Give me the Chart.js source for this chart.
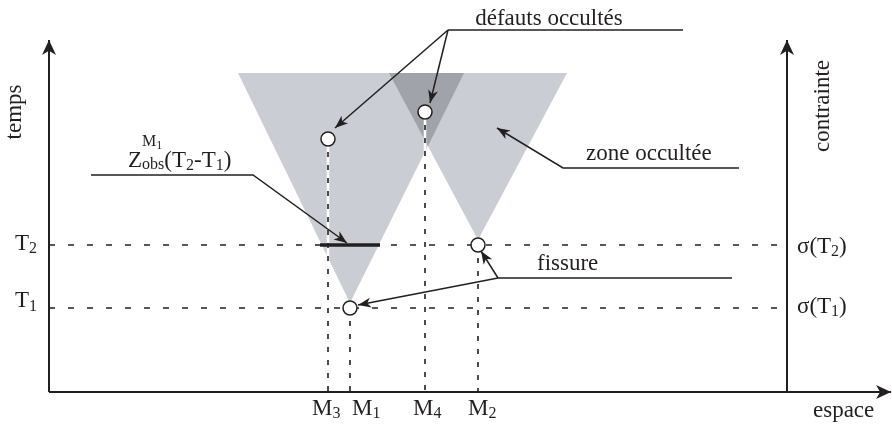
<!DOCTYPE html>
<html lang="fr">
<head>
<meta charset="UTF-8">
<title>Zones occultées</title>
<script src="https://cdn.jsdelivr.net/npm/chart.js"></script>
<style>
  body { margin: 0; background: #fff; }
  canvas { display: block; }
</style>
</head>
<body>
<canvas id="diagram" width="892" height="432"></canvas>
<script>
// diagram units: x = espace, y = temps, origin at the corner of the axes
const pointNames = ['M1', 'M2', 'M3', 'M4'];
const pointX = [301, 429, 279, 376];
const pointT = [84, 147, 253, 280];

const timeNames = ['T1', 'T2'];
const timeY = [84, 147];

const axisTop = 352;
const axisRight = 842;
const stressAxisX = 738;

// occulted zones: triangles opening upward from each crack
const zone1 = [[189, 319], [415, 319], [301, 89]];
const zone2 = [[340, 319], [518, 319], [429, 152]];
const zoneOverlap = [[340, 319], [415, 319], [379, 246]];
const zObsSegment = [[271, 147], [331, 147]];

// leader lines of the annotations (arrow head on the last point)
const leaders = [
  { pts: [[634, 362], [399, 362]], arrow: false },
  { pts: [[399, 362], [286, 264]], arrow: true },
  { pts: [[399, 362], [381, 289]], arrow: true },
  { pts: [[690, 224], [514, 224], [448, 264]], arrow: true },
  { pts: [[42, 217], [204, 217], [298, 149]], arrow: true },
  { pts: [[683, 114], [449, 114], [309, 87]], arrow: true },
  { pts: [[449, 114], [432, 141]], arrow: true }
];

const FONT = 23;
const SUB = 16;
const texts = [
  { x: 500, y: 367, align: 'center', parts: [{ t: 'défauts occultés' }] },
  { x: 537, y: 232, parts: [{ t: 'zone occultée' }] },
  { x: 488, y: 122, parts: [{ t: 'fissure' }] },
  { x: 79, y: 225, parts: [
    { t: 'Z' },
    { t: 'obs', size: SUB, dy: 2, mark: true },
    { t: 'M', size: SUB, dy: -21, at: 'mark' },
    { t: '1', size: 12, dy: -18 },
    { t: '(T', at: 'max' },
    { t: '2', size: SUB, dy: 3 },
    { t: '-T' },
    { t: '1', size: SUB, dy: 3 },
    { t: ')' }
  ] },
  { x: -34, y: 142, parts: [{ t: 'T' }, { t: '2', size: SUB, dy: 3 }] },
  { x: -34, y: 85, parts: [{ t: 'T' }, { t: '1', size: SUB, dy: 4 }] },
  { x: 748, y: 139, parts: [{ t: 'σ(T' }, { t: '2', size: SUB, dy: 3 }, { t: ')' }] },
  { x: 748, y: 79, parts: [{ t: 'σ(T' }, { t: '1', size: SUB, dy: 3 }, { t: ')' }] },
  { x: 263, y: -23, parts: [{ t: 'M' }, { t: '3', size: SUB, dy: 3 }] },
  { x: 303, y: -23, parts: [{ t: 'M' }, { t: '1', size: SUB, dy: 3 }] },
  { x: 364, y: -23, parts: [{ t: 'M' }, { t: '4', size: SUB, dy: 3 }] },
  { x: 419, y: -23, parts: [{ t: 'M' }, { t: '2', size: SUB, dy: 3 }] },
  { x: 764, y: -25, parts: [{ t: 'espace' }] },
  { x: -28, y: 280, rotate: true, parts: [{ t: 'temps' }] },
  { x: 780, y: 286, rotate: true, parts: [{ t: 'contrainte' }] }
];

const INK = '#231f20';
const LIGHT = '#cacdd3';
const DARK = '#a0a4aa';

const xy = pts => pts.map(([x, y]) => ({ x, y }));

const datasets = [];
function add(ds) {
  datasets.push(Object.assign({ showLine: true, pointRadius: 0, borderWidth: 0, fill: false }, ds));
}

add({ data: xy(zone1), fill: 'shape', backgroundColor: LIGHT, order: 10 });
add({ data: xy(zone2), fill: 'shape', backgroundColor: LIGHT, order: 10 });
add({ data: xy(zoneOverlap), fill: 'shape', backgroundColor: DARK, order: 9 });

pointX.forEach((x, i) => {
  const d = xy([[x, pointT[i]], [x, 0]]);
  add({ data: d, borderColor: '#ffffff', borderWidth: 2.5, order: 8 });
  add({ data: d, borderColor: INK, borderWidth: 1.6, borderDash: [5, 8], order: 7 });
});
timeY.forEach(y => {
  add({ data: xy([[0, y], [stressAxisX, y]]), borderColor: INK, borderWidth: 1.5, borderDash: [6, 13], order: 7 });
});

add({ data: xy(zObsSegment), borderColor: INK, borderWidth: 3.5, order: 6 });

add({ data: xy([[0, 0], [0, axisTop]]), borderColor: INK, borderWidth: 2, order: 5 });
add({ data: xy([[0, 0], [axisRight, 0]]), borderColor: INK, borderWidth: 2, order: 5 });
add({ data: xy([[stressAxisX, 0], [stressAxisX, axisTop]]), borderColor: INK, borderWidth: 2, order: 5 });

leaders.forEach(l => add({ data: xy(l.pts), borderColor: INK, borderWidth: 1.5, order: 4 }));

add({
  data: pointX.map((x, i) => ({ x, y: pointT[i] })),
  showLine: false, pointRadius: 7, pointBackgroundColor: '#ffffff',
  pointBorderColor: INK, pointBorderWidth: 1.5, order: 1
});

function arrowHead(ctx, x0, y0, x1, y1, len, half) {
  const a = Math.atan2(y1 - y0, x1 - x0);
  ctx.save();
  ctx.translate(x1, y1);
  ctx.rotate(a);
  ctx.beginPath();
  ctx.moveTo(0, 0);
  ctx.lineTo(-len, -half);
  ctx.lineTo(-len * 0.72, 0);
  ctx.lineTo(-len, half);
  ctx.closePath();
  ctx.fill();
  ctx.restore();
}

function drawParts(ctx, parts, x, y, align) {
  const layout = [];
  let cx = 0, mark = 0, maxX = 0;
  parts.forEach(p => {
    ctx.font = (p.size || FONT) + 'px "Liberation Serif"';
    const w = ctx.measureText(p.t).width;
    if (p.at === 'mark') cx = mark;
    if (p.at === 'max') cx = maxX;
    if (p.mark) mark = cx;
    layout.push({ t: p.t, font: ctx.font, x: cx, dy: p.dy || 0 });
    cx += w;
    maxX = Math.max(maxX, cx);
  });
  const x0 = align === 'center' ? x - maxX / 2 : x;
  layout.forEach(l => {
    ctx.font = l.font;
    ctx.fillText(l.t, x0 + l.x, y + l.dy);
  });
}

const decorations = {
  id: 'decorations',
  afterDatasetsDraw(chart) {
    const ctx = chart.ctx;
    const sx = chart.scales.x, sy = chart.scales.y;
    const px = v => sx.getPixelForValue(v);
    const py = v => sy.getPixelForValue(v);
    ctx.save();
    ctx.fillStyle = INK;

    // axis arrows
    arrowHead(ctx, px(0), py(0), px(0), py(axisTop), 15, 7);
    arrowHead(ctx, px(stressAxisX), py(0), px(stressAxisX), py(axisTop), 15, 7);
    arrowHead(ctx, px(0), py(0), px(axisRight), py(0), 15, 7);

    // annotation arrows
    leaders.filter(l => l.arrow).forEach(l => {
      const a = l.pts[l.pts.length - 2], b = l.pts[l.pts.length - 1];
      arrowHead(ctx, px(a[0]), py(a[1]), px(b[0]), py(b[1]), 13, 5);
    });

    // labels
    ctx.textBaseline = 'alphabetic';
    ctx.textAlign = 'left';
    texts.forEach(tx => {
      if (tx.rotate) {
        ctx.save();
        ctx.translate(px(tx.x), py(tx.y));
        ctx.rotate(-Math.PI / 2);
        ctx.font = FONT + 'px "Liberation Serif"';
        const w = ctx.measureText(tx.parts[0].t).width;
        ctx.fillText(tx.parts[0].t, -w / 2, 0);
        ctx.restore();
      } else {
        drawParts(ctx, tx.parts, px(tx.x), py(tx.y), tx.align);
      }
    });
    ctx.restore();
  }
};

new Chart(document.getElementById('diagram'), {
  type: 'scatter',
  data: { datasets },
  options: {
    responsive: false,
    animation: false,
    layout: { padding: 0, autoPadding: false },
    scales: {
      x: { type: 'linear', min: -49, max: 843, display: false },
      y: { type: 'linear', min: -40, max: 392, display: false }
    },
    plugins: { legend: { display: false }, tooltip: { enabled: false } }
  },
  plugins: [decorations]
});
</script>
</body>
</html>
